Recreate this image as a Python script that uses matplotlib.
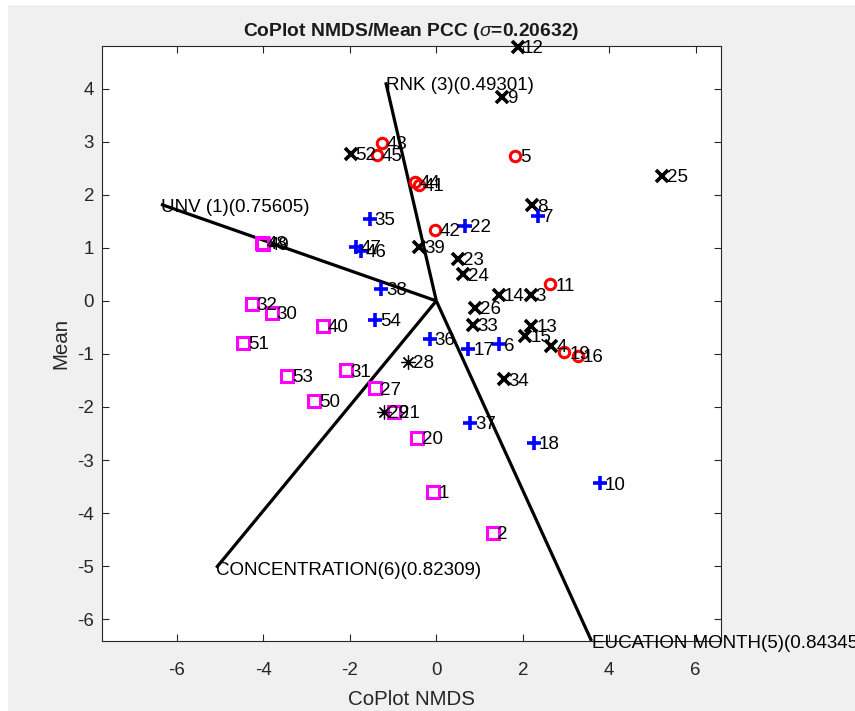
import matplotlib
matplotlib.use("Agg")
import matplotlib.pyplot as plt
from matplotlib.patches import Rectangle

plt.rcParams['font.family'] = ['Liberation Sans', 'DejaVu Sans']
plt.rcParams['mathtext.fontset'] = 'custom'
plt.rcParams['mathtext.rm'] = 'Liberation Sans'
plt.rcParams['mathtext.it'] = 'Liberation Sans:italic'
plt.rcParams['axes.unicode_minus'] = False

# observations by group (id, NMDS x, NMDS y)
red_ids = [43, 45, 44, 41, 5, 42, 11, 19, 16]
red_x = [-1.26, -1.38, -0.50, -0.40, 1.82, -0.03, 2.64, 2.96, 3.28]
red_y = [2.97, 2.75, 2.24, 2.19, 2.74, 1.33, 0.31, -0.97, -1.04]

cross_ids = [52, 12, 9, 25, 8, 39, 23, 24, 14, 3, 26, 33, 13, 15, 4, 34]
cross_x = [-1.98, 1.89, 1.53, 5.23, 2.22, -0.40, 0.50, 0.62, 1.45, 2.18, 0.89, 0.84, 2.20, 2.06, 2.66, 1.56]
cross_y = [2.77, 4.79, 3.85, 2.36, 1.80, 1.02, 0.79, 0.50, 0.11, 0.11, -0.14, -0.46, -0.47, -0.66, -0.85, -1.48]

plus_ids = [35, 47, 46, 22, 7, 38, 54, 36, 17, 6, 37, 18, 10]
plus_x = [-1.54, -1.86, -1.75, 0.67, 2.35, -1.27, -1.41, -0.15, 0.74, 1.45, 0.79, 2.26, 3.78]
plus_y = [1.54, 1.02, 0.94, 1.41, 1.60, 0.23, -0.36, -0.71, -0.90, -0.82, -2.30, -2.68, -3.44]

square_ids = [48, 49, 32, 30, 40, 51, 53, 31, 27, 50, 21, 20, 1, 2]
square_x = [-4.04, -4.00, -4.27, -3.81, -2.62, -4.47, -3.45, -2.10, -1.42, -2.83, -0.97, -0.44, -0.07, 1.30]
square_y = [1.10, 1.07, -0.06, -0.23, -0.47, -0.79, -1.42, -1.31, -1.65, -1.89, -2.10, -2.58, -3.60, -4.37]

star_ids = [28, 29]
star_x = [-0.65, -1.22]
star_y = [-1.15, -2.09]

# variable arrows
var_names = ['UNV (1)(0.75605)', 'RNK (3)(0.49301)', 'EUCATION MONTH(5)(0.84345)', 'CONCENTRATION(6)(0.82309)']
var_x = [-6.37, -1.17, 3.59, -5.09]
var_y = [1.82, 4.12, -6.41, -5.03]

sigma = 0.20632

fig = plt.figure(figsize=(8.55, 7.11), dpi=100, facecolor='white')
fig.patches.append(Rectangle((8 / 855, 0), 1, 1 - 5 / 711, transform=fig.transFigure,
                             facecolor='#f0f0f0', edgecolor='none', zorder=-10))
ax = fig.add_axes([0.119, 0.0985, 0.724, 0.8365])
ax.set_facecolor('white')

for vx, vy, name in zip(var_x, var_y, var_names):
    ax.plot([0, vx], [0, vy], color='black', lw=2.3, zorder=2, solid_capstyle='butt')
    ax.annotate(name, (vx, vy), xytext=(0, -2), textcoords='offset points',
                ha='left', va='center', fontsize=13.5, color='black', annotation_clip=False)

groups = [
    (red_ids, red_x, red_y, dict(marker='o', mfc='none', mec='red', ms=7.5, mew=2.2)),
    (cross_ids, cross_x, cross_y, dict(marker='x', mec='black', ms=8.5, mew=2.6)),
    (plus_ids, plus_x, plus_y, dict(marker='+', mec='blue', ms=10, mew=2.6)),
    (square_ids, square_x, square_y, dict(marker='s', mfc='none', mec='magenta', ms=8, mew=2.2)),
    (star_ids, star_x, star_y, dict(marker=(8, 2, 0), mec='black', ms=10, mew=0.9)),
]
for ids, xs, ys, style in groups:
    ax.plot(xs, ys, ls='none', clip_on=False, zorder=3, **style)
    for i, x, y in zip(ids, xs, ys):
        ax.annotate(str(i), (x, y), xytext=(3.5, -1.2), textcoords='offset points',
                    ha='left', va='center', fontsize=13.5, color='black', zorder=4)

ax.set_xlim(-7.74, 6.58)
ax.set_ylim(-6.41, 4.80)
ax.set_xticks([-6, -4, -2, 0, 2, 4, 6])
ax.set_yticks([-6, -5, -4, -3, -2, -1, 0, 1, 2, 3, 4])
ax.tick_params(direction='in', top=True, right=True, length=5, width=0.8,
               labelsize=13.5, colors='#262626')
ax.tick_params(axis='x', pad=15)
ax.tick_params(axis='y', pad=5.5)
for s in ax.spines.values():
    s.set_color('#262626')
    s.set_linewidth(0.8)

ax.set_title('CoPlot NMDS/Mean PCC ($\\sigma$=%.5f)' % sigma, fontsize=13.9, fontweight='bold',
             color='#1a1a1a', pad=7)
ax.set_xlabel('CoPlot NMDS', fontsize=14.8, color='#262626', labelpad=8)
ax.set_ylabel('Mean', fontsize=14.8, color='#262626', labelpad=5)

fig.savefig('out.png', dpi=100, facecolor=fig.get_facecolor())
